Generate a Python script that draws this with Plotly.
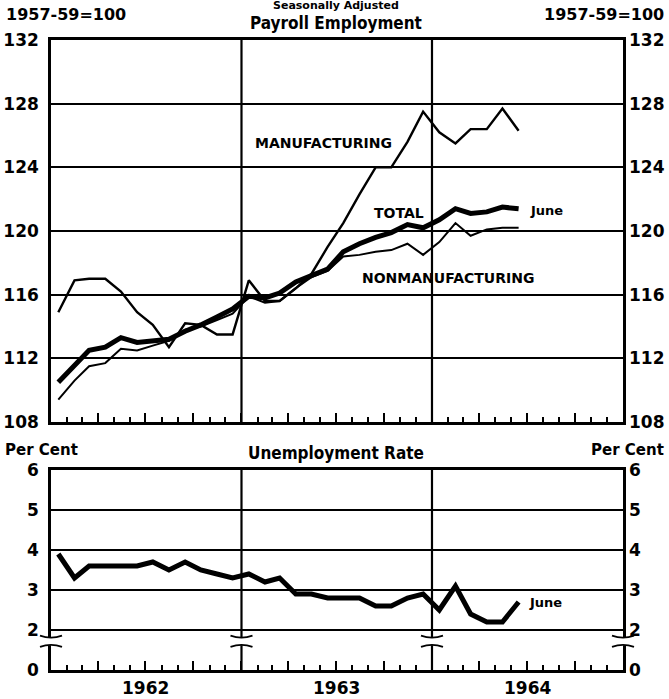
import plotly.graph_objects as go
import pandas as pd

# ---------------- data ----------------
months = pd.date_range("1962-01-01", periods=30, freq="MS") + pd.Timedelta(days=14)

total = [110.5, 111.6, 112.5, 112.7, 113.3, 113.0, 113.1, 113.2, 113.7, 114.1,
         114.6, 115.1, 115.9, 115.8, 116.1, 116.8, 117.2, 117.6, 118.7, 119.2,
         119.6, 119.9, 120.4, 120.2, 120.7, 121.4, 121.1, 121.2, 121.5, 121.4]

manufacturing = [114.9, 116.9, 117.0, 117.0, 116.2, 114.9, 114.1, 112.7, 114.2, 114.1,
                 113.5, 113.5, 116.9, 115.6, 115.6, 116.4, 117.3, 119.0, 120.5, 122.3,
                 124.0, 124.0, 125.6, 127.5, 126.2, 125.5, 126.4, 126.4, 127.7, 126.3]

nonmanufacturing = [109.4, 110.6, 111.5, 111.7, 112.6, 112.5, 112.8, 113.1, 113.8, 114.0,
                    114.4, 114.8, 115.9, 115.5, 115.6, 116.4, 117.1, 117.5, 118.4, 118.5,
                    118.7, 118.8, 119.2, 118.5, 119.3, 120.5, 119.7, 120.1, 120.2, 120.2]

unemployment = [3.9, 3.3, 3.6, 3.6, 3.6, 3.6, 3.7, 3.5, 3.7, 3.5,
                3.4, 3.3, 3.4, 3.2, 3.3, 2.9, 2.9, 2.8, 2.8, 2.8,
                2.6, 2.6, 2.8, 2.9, 2.5, 3.1, 2.4, 2.2, 2.2, 2.7]

year_labels = ["1962", "1963", "1964"]
year_starts = ["1962-01-01", "1963-01-01", "1964-01-01", "1965-01-01"]
year_mids = ["1962-07-02", "1963-07-02", "1964-07-02"]

payroll_ticks = [108, 112, 116, 120, 124, 128, 132]
# the unemployment axis is broken between 0 and 2: the "0" line is drawn one unit below 2
unemp_tickvals = [1, 2, 3, 4, 5, 6]
unemp_ticktext = ["0", "2", "3", "4", "5", "6"]

# ---------------- style ----------------
W, H = 669, 699
ML, MR, MT, MB = 51, 46, 40, 29
PW, PH = W - ML - MR, H - MT - MB
BLACK = "black"
FONT = "DejaVu Sans, Verdana, sans-serif"
COND = "DejaVu Sans Condensed, Liberation Sans Narrow, Arial Narrow, sans-serif"


def px_x(x):
    return (x - ML) / PW


def px_y(y):
    return (H - MB - y) / PH


top_dom = [px_y(422), 1.0]
bot_dom = [0.0, px_y(470)]

tickfont = dict(family=FONT, size=17, color=BLACK, weight="bold")

fig = go.Figure()

fig.add_trace(go.Scatter(x=months, y=manufacturing, mode="lines",
                         line=dict(color=BLACK, width=2.4), xaxis="x", yaxis="y"))
fig.add_trace(go.Scatter(x=months, y=nonmanufacturing, mode="lines",
                         line=dict(color=BLACK, width=2.0), xaxis="x", yaxis="y"))
fig.add_trace(go.Scatter(x=months, y=total, mode="lines",
                         line=dict(color=BLACK, width=5), xaxis="x", yaxis="y"))
fig.add_trace(go.Scatter(x=months, y=unemployment, mode="lines",
                         line=dict(color=BLACK, width=5), xaxis="x2", yaxis="y2"))
# anchors for the right-hand axes
fig.add_trace(go.Scatter(x=[months[0]], y=[None], xaxis="x", yaxis="y3",
                         showlegend=False, hoverinfo="skip"))
fig.add_trace(go.Scatter(x=[months[0]], y=[None], xaxis="x2", yaxis="y4",
                         showlegend=False, hoverinfo="skip"))

xcommon = dict(type="date", range=[year_starts[0], year_starts[-1]], domain=[0, 1],
               showline=True, linewidth=2.5, linecolor=BLACK, mirror=True,
               ticks="inside", tickmode="linear", tick0=year_starts[0], dtick="M3",
               ticklen=9, tickwidth=2, tickcolor=BLACK, showticklabels=False,
               showgrid=False, zeroline=False, automargin=False,
               minor=dict(ticks="inside", dtick="M1", tick0=year_starts[0],
                          ticklen=5, tickwidth=1.6, tickcolor=BLACK, showgrid=False))

ycommon = dict(showline=True, linewidth=2.5, linecolor=BLACK, mirror=True,
               showgrid=True, gridcolor=BLACK, gridwidth=1.5, zeroline=False,
               ticks="", tickfont=tickfont, ticklabelstandoff=6, automargin=False)

yright = dict(showline=False, showgrid=False, zeroline=False, ticks="",
              tickfont=tickfont, ticklabelstandoff=5, side="right", automargin=False)

fig.update_layout(
    width=W, height=H, margin=dict(l=ML, r=MR, t=MT, b=MB, autoexpand=False),
    paper_bgcolor="white", plot_bgcolor="white", showlegend=False,
    xaxis=dict(xcommon, anchor="y"),
    xaxis2=dict(xcommon, anchor="y2"),
    yaxis=dict(ycommon, domain=top_dom, anchor="x", range=[108, 132],
               tickmode="array", tickvals=payroll_ticks),
    yaxis3=dict(yright, overlaying="y", anchor="x", range=[108, 132],
                tickmode="array", tickvals=payroll_ticks),
    yaxis2=dict(ycommon, domain=bot_dom, anchor="x2", range=[1, 6],
                tickmode="array", tickvals=unemp_tickvals, ticktext=unemp_ticktext),
    yaxis4=dict(yright, overlaying="y2", anchor="x2", range=[1, 6],
                tickmode="array", tickvals=unemp_tickvals, ticktext=unemp_ticktext),
)

# year boundary lines
for ys in year_starts[1:-1]:
    for xr, yr in (("x", "y"), ("x2", "y2")):
        fig.add_shape(type="line", xref=xr, yref=yr + " domain", x0=ys, x1=ys, y0=0, y1=1,
                      line=dict(color=BLACK, width=2.2), layer="above")

# axis-break marks on the unemployment panel
t0 = pd.Timestamp(year_starts[0])
t1 = pd.Timestamp(year_starts[-1])
hw = 11 / PW
for ys in year_starts:
    xb = (pd.Timestamp(ys) - t0) / (t1 - t0)
    fig.add_shape(type="rect", xref="paper", yref="y2", x0=xb - 0.008, x1=xb + 0.008,
                  y0=1.62, y1=1.82, fillcolor="white", line=dict(width=0), layer="above")
    fig.add_shape(type="path", xref="paper", yref="y2",
                  path=f"M {xb-hw},1.86 Q {xb},1.76 {xb+hw},1.86",
                  line=dict(color=BLACK, width=1.8), layer="above")
    fig.add_shape(type="path", xref="paper", yref="y2",
                  path=f"M {xb-hw},1.58 Q {xb},1.68 {xb+hw},1.58",
                  line=dict(color=BLACK, width=1.8), layer="above")

ann = []


def text(s, x, y, size, xanchor="center", family=FONT, xref="paper", yref="paper"):
    ann.append(dict(text=s, x=x, y=y, xref=xref, yref=yref, showarrow=False,
                    xanchor=xanchor, yanchor="middle",
                    font=dict(family=family, size=size, color=BLACK, weight="bold")))


text("Seasonally Adjusted", px_x(336), px_y(6), 11)
text("Payroll Employment", px_x(336), px_y(23), 17, family=COND)
text("1957-59=100", px_x(4), px_y(15), 16, xanchor="left")
text("1957-59=100", px_x(666), px_y(15), 16, xanchor="right")
text("Per Cent", px_x(3), px_y(450), 15, xanchor="left")
text("Per Cent", px_x(666), px_y(450), 15, xanchor="right")
text("Unemployment Rate", px_x(336), px_y(453), 17, family=COND)

for lab, mid in zip(year_labels, year_mids):
    text(lab, mid, px_y(688), 17, xref="x2")

# series labels inside the top panel
text("MANUFACTURING", "1963-06-07", 125.55, 14, xref="x", yref="y")
text("TOTAL", "1963-10-29", 121.15, 14, xref="x", yref="y")
text("NONMANUFACTURING", "1964-02-01", 117.05, 14, xref="x", yref="y")
text("June", "1964-08-08", 121.3, 13, xref="x", yref="y")
text("June", "1964-08-05", 2.68, 13, xref="x2", yref="y2")

fig.update_layout(annotations=ann)

fig.write_html("out.html", config={"displayModeBar": False},
               post_script="document.body.style.margin='0px';")
